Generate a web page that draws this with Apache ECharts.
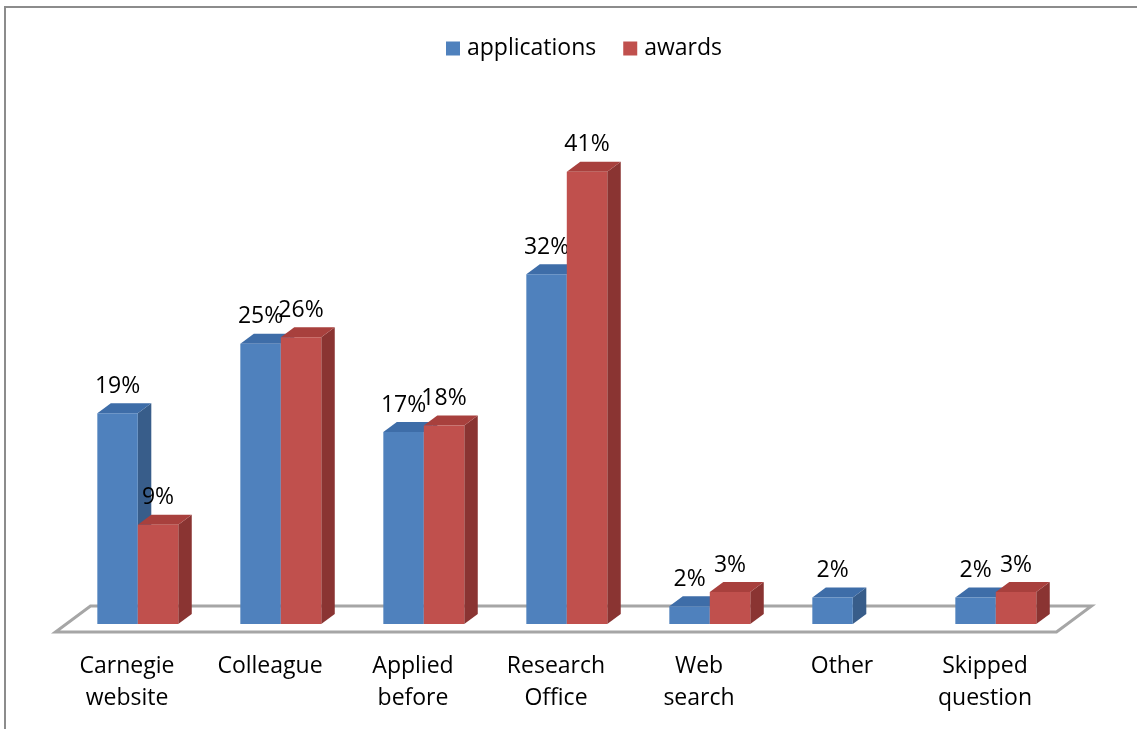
<!DOCTYPE html>
<html>
<head>
<meta charset="utf-8">
<script src="https://cdn.jsdelivr.net/npm/echarts@6/dist/echarts.min.js"></script>
<style>
  html, body { margin: 0; padding: 0; background: #fff; }
  #chart { width: 1137px; height: 729px; }
</style>
</head>
<body>
<div id="chart"></div>
<script>
// data (labels are the rounded values)
const categories = ['Carnegie\nwebsite', 'Colleague', 'Applied\nbefore', 'Research\nOffice', 'Web\nsearch', 'Other', 'Skipped\nquestion']
const applications = [19.1, 25.4, 17.4, 31.7, 1.6, 2.4, 2.4]
const awards = [9.0, 26.0, 18.0, 41.0, 2.9, null, 2.9]

const FONT = '"Open Sans", sans-serif'

/* faces: front, top, side */
const blue = {front: '#4f81bd', top: '#3e6da8', side: '#385d8a'}
const red = {front: '#c0504d', top: '#a8403d', side: '#8a3432'}

const chart = echarts.init(document.getElementById('chart'))

// 3d-looking bar, idx 0 = left bar in the pair, 1 = right bar
const barRenderer = (idx, pal) => (params, api) => {
  const v = api.value(1)
  if (v == null || isNaN(v)) return
  const cat = api.value(0)
  const base = api.coord([cat, 0])
  const top = api.coord([cat, v])
  const band = api.size([1, 0])[0]
  const w = band * 0.283
  const inX = band * 0.0755, inY = -8   // bars stand a bit back on the floor
  const dx = 13.5, dy = -10              // bar depth
  const x0 = base[0] + inX + (idx === 0 ? -w : 0)
  const x1 = x0 + w
  const yb = base[1] + inY
  const yt = top[1] + inY
  return {
    type: 'group',
    children: [
      {type: 'polygon', shape: {points: [[x1, yb], [x1 + dx, yb + dy], [x1 + dx, yt + dy], [x1, yt]]}, style: {fill: pal.side}},
      {type: 'polygon', shape: {points: [[x0, yt], [x0 + dx, yt + dy], [x1 + dx, yt + dy], [x1, yt]]}, style: {fill: pal.top}},
      {type: 'rect', shape: {x: x0, y: yt, width: w, height: yb - yt}, style: {fill: pal.front}},
      {
        type: 'text',
        x: x0 + w / 2, y: yt - 27,
        style: {text: Math.round(v) + '%', font: '23px ' + FONT, fill: '#000', align: 'center', verticalAlign: 'middle'}
      }
    ]
  }
}

// floor plate under the bars
const floorRenderer = (params) => {
  const cs = params.coordSys
  const yb = cs.y + cs.height
  const fx = 35, fy = -26
  return {
    type: 'polygon',
    shape: {points: [[cs.x, yb], [cs.x + cs.width, yb], [cs.x + cs.width + fx, yb + fy], [cs.x + fx, yb + fy]]},
    style: {fill: '#fff', stroke: '#a6a6a6', lineWidth: 3, lineJoin: 'miter'}
  }
}

chart.setOption({
  animation: false,
  graphic: [{
    type: 'rect',
    shape: {x: 5, y: 7, width: 1300, height: 900},
    style: {fill: 'none', stroke: '#8c8c8c', lineWidth: 2}
  }],
  legend: {
    top: 32,
    left: 441,
    itemWidth: 14,
    itemHeight: 14,
    itemGap: 27,
    icon: 'rect',
    textStyle: {fontFamily: FONT, fontSize: 23, color: '#000', padding: [0, 0, 0, 2]},
    data: ['applications', 'awards']
  },
  grid: {left: 55.5, right: 80.5, top: 135.6, bottom: 97},
  xAxis: {
    type: 'category',
    data: categories,
    axisLine: {show: false},
    axisTick: {show: false},
    axisLabel: {
      interval: 0,
      margin: 18,
      fontFamily: FONT,
      fontSize: 23,
      lineHeight: 32,
      color: '#000'
    }
  },
  yAxis: {type: 'value', min: 0, max: 45, show: false, splitLine: {show: false}},
  series: [
    {
      name: 'floor',
      type: 'custom',
      renderItem: floorRenderer,
      data: [[0, 0]],
      z: 1,
      silent: true
    },
    {
      name: 'applications',
      type: 'custom',
      itemStyle: {color: blue.front},
      renderItem: barRenderer(0, blue),
      encode: {x: 0, y: 1},
      data: applications.map((v, i) => [i, v]),
      z: 2
    },
    {
      name: 'awards',
      type: 'custom',
      itemStyle: {color: red.front},
      renderItem: barRenderer(1, red),
      encode: {x: 0, y: 1},
      data: awards.map((v, i) => [i, v]),
      z: 3
    }
  ]
})
</script>
</body>
</html>
